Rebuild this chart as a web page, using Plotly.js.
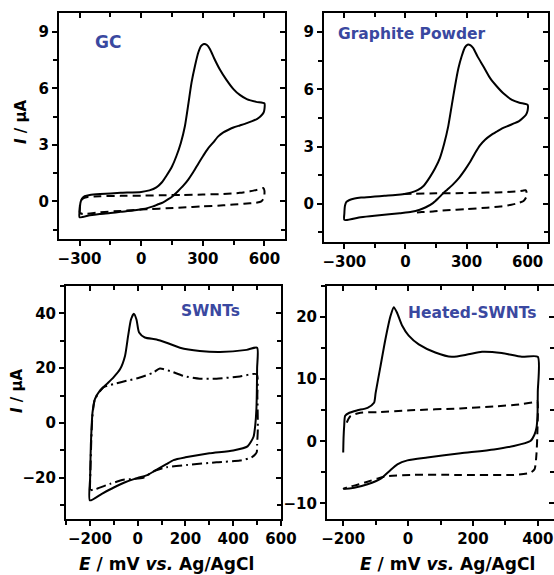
<!DOCTYPE html>
<html>
<head>
<meta charset="utf-8">
<script src="https://cdn.plot.ly/plotly-3.0.1.min.js"></script>
<style>html,body{margin:0;padding:0;background:#fff;}#plot{width:554px;height:575px;}</style>
</head>
<body>
<div id="plot"></div>
<script>
// ---------- DATA ----------
// Panel 1: GC
const gcSolidE = [-300,-299,-295,-288,-275,-250,-200,-100,0,40,74,100,123,150,172,193,213,230,245,262,278,292,305,320,335,355,383,415,449,480,514,560,600,
  600,596,580,563,540,514,480,449,425,400,375,351,325,302,278,253,230,205,180,156,130,107,80,58,30,9,-40,-100,-150,-202,-250,-300];
const gcSolidI = [-0.85,-0.45,-0.05,0.15,0.27,0.34,0.39,0.45,0.5,0.58,0.74,1.0,1.36,1.85,2.42,3.1,4.0,5.2,6.3,7.2,7.9,8.25,8.35,8.3,8.08,7.6,7.0,6.45,5.96,5.65,5.43,5.28,5.2,
  4.9,4.72,4.5,4.37,4.26,4.15,4.03,3.92,3.8,3.66,3.45,3.13,2.8,2.42,2.0,1.54,1.17,0.83,0.55,0.3,0.1,-0.05,-0.17,-0.27,-0.36,-0.41,-0.49,-0.56,-0.62,-0.67,-0.74,-0.85];
const gcDashE = [-300,-298,-293,-280,-260,-200,-100,0,100,200,300,400,480,530,570,595,600,598,585,560,500,450,400,300,200,123,50,0,-100,-200,-284,-300];
const gcDashI = [-0.6,-0.2,0.05,0.17,0.23,0.27,0.29,0.3,0.32,0.34,0.36,0.39,0.45,0.53,0.63,0.7,0.55,0.2,0.0,-0.07,-0.13,-0.17,-0.21,-0.27,-0.33,-0.37,-0.41,-0.44,-0.51,-0.58,-0.67,-0.62];

// Panel 2: Graphite Powder
const gpSolidE = [-300,-300,-297,-290,-275,-250,-218,-150,-103,-50,-4,30,62,90,120,145,169,190,210,228,243,260,276,292,305,320,333,355,383,415,449,485,523,560,600,
  600,592,575,556,530,506,475,449,420,391,365,342,318,292,260,230,205,184,160,135,100,70,30,-28,-80,-152,-220,-300];
const gpSolidI = [-0.84,-0.5,-0.1,0.1,0.2,0.28,0.33,0.38,0.42,0.46,0.52,0.6,0.73,0.95,1.4,1.85,2.4,3.15,4.06,5.2,6.15,7.1,7.73,8.2,8.34,8.3,8.16,7.7,7.2,6.6,6.15,5.75,5.45,5.3,5.19,
  4.9,4.67,4.48,4.32,4.2,4.09,3.95,3.79,3.6,3.36,3.05,2.66,2.2,1.78,1.32,0.98,0.74,0.54,0.28,0.04,-0.18,-0.31,-0.42,-0.49,-0.55,-0.62,-0.7,-0.84];
const gpDashE = [-10,50,150,250,350,450,547,575,590,594,593,580,554,520,465,400,300,200,135,80,36];
const gpDashI = [0.52,0.53,0.55,0.56,0.58,0.6,0.65,0.69,0.71,0.65,0.35,0.15,0.04,-0.05,-0.14,-0.2,-0.28,-0.34,-0.4,-0.43,-0.47];

// Panel 3: SWNTs
const swSolidE = [-200,-199,-196,-192,-189,-179,-158,-130,-102,-74,-53,-40,-28,-16,-5,6,30,79,121,177,260,344,456,500,
  500,497,492,485,460,400,300,200,150,120,80,40,0,-50,-100,-150,-200];
const swSolidI = [-28.2,-20,-8,0,3.9,8.7,11.8,14.2,16.6,19.6,24.5,31.8,37.8,39.9,37.8,33,31.2,30.5,29.3,27.5,26.3,25.9,26.7,27.5,
  20,5,-1,-5,-8.5,-10,-11,-12.5,-13.5,-15,-17,-19,-20,-21.5,-23.5,-25.8,-28.2];
const swDashE = [-200,-198,-194,-190,-185,-179,-144,-102,-47,9,65,93,135,191,260,330,428,498,
  501,503,500,498,477,428,330,205,121,65,23,-19,-60,-116,-172,-200];
const swDashI = [-24.5,-18,-6,2,6,8.7,13,14.2,15.4,16.6,18.4,19.9,19,17.2,16.2,16.2,17,17.8,
  10,-2,-8,-10.7,-12.5,-13.7,-14.3,-15.3,-16.1,-17.7,-20,-20.4,-20.7,-22.2,-24,-24.6];

// Panel 4: Heated-SWNTs
const hsSolidE = [-200,-199,-197,-194,-181,-156,-125,-105,-100,-85,-70,-54,-44,-34,-18,2,33,84,135,186,228,289,351,400,
  400,399,396,390,377,326,265,162,59,-2,-33,-58,-84,-125,-166,-197,-200];
const hsSolidI = [-1.8,0.5,2.5,4.1,4.6,5.0,5.4,6.2,7.8,12.1,16.4,20.2,21.6,20.7,18.6,17.0,15.6,14.3,13.6,14.0,14.4,14.2,13.6,13.6,
  8,4,2.2,1.1,0.05,-0.75,-1.3,-1.93,-2.6,-3.06,-3.7,-4.8,-6.0,-6.9,-7.46,-7.6,-7.5];
const hsDashE = [-189,-184,-177,-147,-95,7,161,265,345,386,398,
  399,396,390,377,326,162,7,-64,-95,-125,-156,-187,-200];
const hsDashI = [3.0,3.6,4.1,4.6,4.7,5.0,5.3,5.6,5.96,6.3,6.5,
  2,-2,-4.5,-5.05,-5.4,-5.4,-5.4,-5.6,-6.0,-6.5,-7.0,-7.4,-7.7];

// tick settings per panel
const xTick0 = [-300,-300,-200,-200];
const xDtick = [300,300,200,200];
const yDtick = [3,3,20,10];
const xRanges = [[-400,700],[-400,700],[-300,600],[-250,450]];
const yRanges = [[-2,10],[-2,10],[-35,50],[-12.5,25]];
const panelLabels = ['GC','Graphite Powder','SWNTs','Heated-SWNTs'];
const xTitleText = '<i>E</i> / mV <i>vs.</i> Ag/AgCl';
const yTitleText = '<i>I</i> / µA';

// ---------- STYLE ----------
const FONT = 'DejaVu Sans, Liberation Sans, Arial, sans-serif';
const blue = '#3a48a0';
const dashPat = '8px,5px';
const dashDotPat = '10px,4px,2px,4px';

const xDomains = [[59/554,285/554],[324/554,548/554],[66/554,281/554],[327/554,1]];
const yDomains = [[1-239/575,1-13/575],[1-242/575,1-13/575],[1-519/575,1-286/575],[1-519/575,1-286/575]];

function line(E,I,ax,dash){
  return {x:E,y:I,type:'scatter',mode:'lines',xaxis:'x'+ax,yaxis:'y'+ax,
    line:{color:'#000',width:2,dash:dash||'solid',shape:'spline',smoothing:0.6},
    showlegend:false,hoverinfo:'skip'};
}
const traces = [
  line(gcDashE,gcDashI,'',dashPat), line(gcSolidE,gcSolidI,''),
  line(gpDashE,gpDashI,'2',dashPat), line(gpSolidE,gpSolidI,'2'),
  line(swDashE,swDashI,'3',dashDotPat), line(swSolidE,swSolidI,'3'),
  line(hsDashE,hsDashI,'4',dashPat), line(hsSolidE,hsSolidI,'4')
];

const layout = {width:554,height:575,margin:{l:0,r:0,t:0,b:0},paper_bgcolor:'#fff',plot_bgcolor:'rgba(0,0,0,0)',
  showlegend:false,font:{family:FONT,color:'#000'},annotations:[]};

const tickfont = {family:FONT,size:15,weight:'bold',color:'#000'};
for(let i=0;i<4;i++){
  const n = i+1, sfx = n===1?'':String(n);
  const xa = 'xaxis'+sfx, ya='yaxis'+sfx;
  layout[xa] = {domain:xDomains[i],range:xRanges[i],anchor:'y'+sfx,showgrid:false,zeroline:false,
    showline:true,mirror:true,linecolor:'#000',linewidth:2,
    ticks:'outside',ticklen:5,tickwidth:2,tickcolor:'#000',tick0:xTick0[i],dtick:xDtick[i],
    minor:{ticks:'outside',ticklen:4,tickwidth:2,tickcolor:'#000',dtick:xDtick[i]/2,tick0:xTick0[i]},
    tickfont:tickfont,fixedrange:true};
  layout[ya] = {domain:yDomains[i],range:yRanges[i],anchor:'x'+sfx,showgrid:false,zeroline:false,
    showline:true,mirror:true,linecolor:'#000',linewidth:2,
    ticks:'outside',ticklen:5,tickwidth:2,tickcolor:'#000',tick0:0,dtick:yDtick[i],
    minor:{ticks:'outside',ticklen:4,tickwidth:2,tickcolor:'#000',dtick:yDtick[i]/2,tick0:0},
    tickfont:tickfont,fixedrange:true};
  // inside ticks on top and right
  const tx = 'xaxis'+(n+4), ty='yaxis'+(n+4);
  layout[tx] = {overlaying:'x'+sfx,side:'top',anchor:'y'+sfx,range:xRanges[i],showgrid:false,zeroline:false,showline:false,
    ticks:'inside',ticklen:5,tickwidth:2,tickcolor:'#000',tick0:xTick0[i],dtick:xDtick[i],showticklabels:false,
    minor:{ticks:'inside',ticklen:4,tickwidth:2,tickcolor:'#000',dtick:xDtick[i]/2,tick0:xTick0[i]},fixedrange:true};
  layout[ty] = {overlaying:'y'+sfx,side:'right',anchor:'x'+sfx,range:yRanges[i],showgrid:false,zeroline:false,showline:false,
    ticks:'inside',ticklen:5,tickwidth:2,tickcolor:'#000',tick0:0,dtick:yDtick[i],showticklabels:false,
    minor:{ticks:'inside',ticklen:4,tickwidth:2,tickcolor:'#000',dtick:yDtick[i]/2,tick0:0},fixedrange:true};
  traces.push({x:[],y:[],type:'scatter',mode:'lines',xaxis:'x'+(n+4),yaxis:'y'+sfx,showlegend:false});
  traces.push({x:[],y:[],type:'scatter',mode:'lines',xaxis:'x'+sfx,yaxis:'y'+(n+4),showlegend:false});
}

// panel labels
const labelPos = [[108,42],[412,34],[211,311],[472,313]];
const labelSize = [17,15.5,15.5,15.5];
for(let i=0;i<4;i++){
  layout.annotations.push({text:panelLabels[i],xref:'paper',yref:'paper',x:labelPos[i][0]/554,y:1-labelPos[i][1]/575,
    xanchor:'center',yanchor:'middle',showarrow:false,font:{family:FONT,size:labelSize[i],weight:'bold',color:blue}});
}
// axis titles
layout.annotations.push({text:yTitleText,xref:'paper',yref:'paper',x:21/554,y:1-122/575,textangle:-90,
  xanchor:'center',yanchor:'middle',showarrow:false,font:{family:FONT,size:15,weight:'bold',color:'#000'}});
layout.annotations.push({text:yTitleText,xref:'paper',yref:'paper',x:17/554,y:1-391/575,textangle:-90,
  xanchor:'center',yanchor:'middle',showarrow:false,font:{family:FONT,size:15,weight:'bold',color:'#000'}});
layout.annotations.push({text:xTitleText,xref:'paper',yref:'paper',x:166/554,y:1-564/575,
  xanchor:'center',yanchor:'middle',showarrow:false,font:{family:FONT,size:17,weight:'bold',color:'#000'}});
layout.annotations.push({text:xTitleText,xref:'paper',yref:'paper',x:447/554,y:1-564/575,
  xanchor:'center',yanchor:'middle',showarrow:false,font:{family:FONT,size:17,weight:'bold',color:'#000'}});

Plotly.newPlot('plot',traces,layout,{staticPlot:true,displayModeBar:false});
</script>
</body>
</html>
